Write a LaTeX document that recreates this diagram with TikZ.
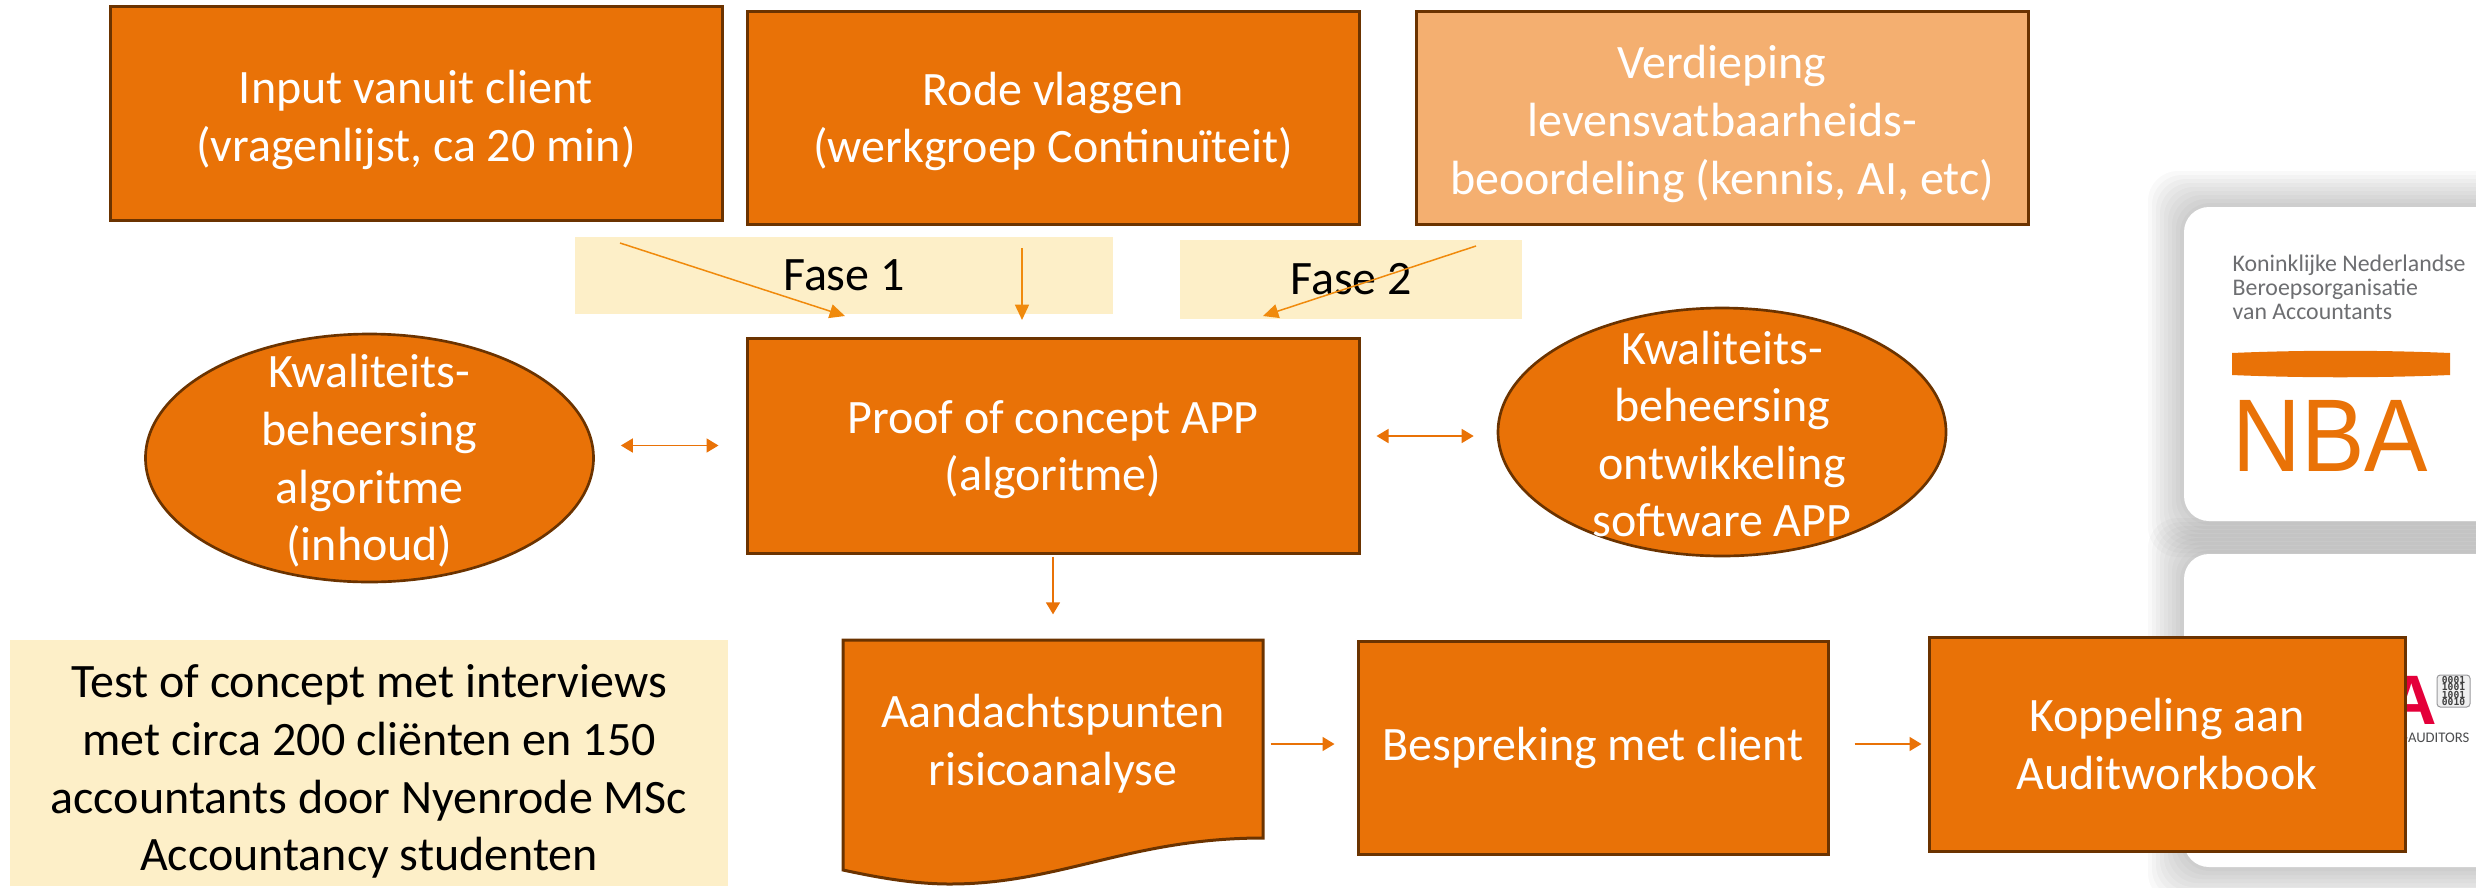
\documentclass[tikz,border=0pt]{standalone}
\usepackage{fontspec}
\setmainfont{Carlito}
\newfontfamily\logofont{Liberation Sans}
\newfontfamily\digitfont{DejaVu Sans Mono}
\usetikzlibrary{calc,arrows.meta,shapes.geometric}

\definecolor{boxfill}{HTML}{E97207}
\definecolor{boxline}{HTML}{6B3300}
\definecolor{boxpale}{HTML}{F4AF70}
\definecolor{notefill}{HTML}{FDEFC8}
\definecolor{flowline}{HTML}{F08A0C}
\definecolor{redlogo}{HTML}{E4003A}
\definecolor{greylogo}{HTML}{6D6E71}

\newcommand{\lowline}[1]{\rule{0pt}{#1}}

\tikzset{
  bodyfont/.style={font=\fontsize{14.4}{17.3}\selectfont,align=center},
  stepbox/.style={bodyfont,draw=boxline,line width=0.9pt,fill=boxfill,text=white,inner sep=0pt},
  ovalbox/.style={draw=boxline,line width=0.8pt,fill=boxfill,ellipse,inner sep=0pt,
    minimum width=134.4pt,minimum height=74.4pt},
  notebox/.style={bodyfont,fill=notefill,text=black,inner sep=0pt},
  flow/.style={-{Triangle[length=4.6pt,width=4.2pt]},draw=flowline,line width=0.45pt},
  linkarrow/.style={{Triangle[length=3.6pt,width=4.2pt]}-{Triangle[length=3.6pt,width=4.2pt]},
    draw=boxfill,line width=0.5pt},
  stepflow/.style={-{Triangle[length=3.6pt,width=4.2pt]},draw=boxfill,line width=0.5pt},
  logocard/.style={fill=white,rounded corners=7.5pt},
}

\begin{document}
\begin{tikzpicture}[x=0.3pt,y=-0.3pt]
  \useasboundingbox (0,0) rectangle (2476,887);

  % logo cards
  \foreach \grow in {36,32,...,4}{
    \fill[black,opacity=0.022,rounded corners=9pt] (2184-\grow,207-\grow) rectangle (2560,521+\grow);
    \fill[black,opacity=0.022,rounded corners=9pt] (2184-\grow,554-\grow) rectangle (2560,867+\grow);
  }
  \fill[logocard] (2184,207) rectangle (2560,521);
  \fill[logocard] (2184,554) rectangle (2560,867);

  \node[anchor=west,text=greylogo,inner sep=0pt,align=left,font=\fontsize{7.15}{7.2}\selectfont] (nbatext) at (2232,287)
    {Koninklijke Nederlandse\\Beroepsorganisatie\\van Accountants};
  \fill[boxfill] (2232,353) .. controls (2300,350) and (2380,350) .. (2450,353) -- (2450,375)
    .. controls (2380,378) and (2300,378) .. (2232,375) -- cycle;
  \node[anchor=west,text=boxfill,inner sep=0pt,xscale=0.92,font=\logofont\fontsize{31}{31}\selectfont] (nbalogo) at (2232,436) {NBA};
  \node[anchor=south,text=redlogo,inner sep=0pt,font=\logofont\bfseries\fontsize{21}{21}\selectfont] (redlogo) at (2412,725.5) {A};
  \node[anchor=east,text=greylogo!70!black,inner sep=0pt,font=\fontsize{4.4}{4.4}\selectfont] (auditlogo) at (2470,738) {-AUDITORS};
  \node[draw=greylogo!70,fill=black!6,rounded corners=1pt,line width=0.3pt,minimum width=9.9pt,minimum height=9.6pt,
    inner sep=0pt,align=center,text=black!75,font=\digitfont\bfseries\fontsize{2.9}{2.2}\selectfont] (binlogo) at (2453.5,691)
    {0001\\1001\\1001\\0010};

  % first row
  \node[stepbox,minimum width=183.6pt,minimum height=64.2pt] (client) at (416,113) {\lowline{14.3pt}Input vanuit client\\(vragenlijst, ca 20 min)};
  \node[stepbox,minimum width=183.6pt,minimum height=63.9pt] (vlaggen) at (1053,117.5) {\lowline{12.4pt}Rode vlaggen\\(werkgroep Continuïteit)};
  \node[stepbox,fill=boxpale,minimum width=183.6pt,minimum height=63.9pt] (verdieping) at (1722,117.5) {\lowline{13.8pt}Verdieping\\levensvatbaarheids-\\beoordeling (kennis, AI, etc)};

  % phases
  \node[notebox,minimum width=161.4pt,minimum height=23.1pt] (fase1) at (844,275.5) {Fase 1};
  \node[notebox,minimum width=102.6pt,minimum height=23.7pt] (fase2) at (1351,279.5) {Fase 2};

  % middle row
  \node[stepbox,minimum width=183.6pt,minimum height=64.5pt] (proof) at (1053,445.5) {\lowline{12.4pt}Proof of concept APP\\(algoritme)};
  \node[ovalbox] (inhoud) at (369.5,458) {};
  \node[bodyfont,text=white,inner sep=0pt] (inhoudtext) at (369.5,461) {Kwaliteits-\\beheersing\\algoritme\\(inhoud)};
  \node[ovalbox] (software) at (1722,432) {};
  \node[bodyfont,text=white,inner sep=0pt] (softwaretext) at (1722,434) {Kwaliteits-\\beheersing\\ontwikkeling\\software APP};

  % last row
  \node[notebox,minimum width=215.4pt,minimum height=73.8pt] (test) at (369,763) {\lowline{15.2pt}Test of concept met interviews\\met circa 200 cliënten en 150\\accountants door Nyenrode MSc\\Accountancy studenten};
  \fill[boxfill,draw=boxline,line width=0.9pt] (843,640) -- (1263,640) -- (1263,838)
    .. controls (1130,838) and (1060,884) .. (950,884) .. controls (915,884) and (880,878) .. (843,870) -- cycle;
  \node[bodyfont,text=white,inner sep=0pt,minimum width=126pt,minimum height=62.4pt] (aandacht) at (1053,744) {Aandachtspunten\\risicoanalyse};
  \node[stepbox,minimum width=141pt,minimum height=63.9pt] (bespreking) at (1593,747.5) {Bespreking met client};
  \node[stepbox,minimum width=142.8pt,minimum height=64.2pt] (koppeling) at (2167,744) {Koppeling aan\\Auditworkbook};

  % connectors
  \coordinate (inputstart) at (620,243);
  \coordinate (inputend) at (845,316);
  \coordinate (vlagstart) at (1022,248);
  \coordinate (vlagend) at (1022,320);
  \coordinate (diepstart) at (1476,246);
  \coordinate (diepend) at (1263,316);
  \draw[flow] (inputstart) -- (inputend);
  \draw[flow] (vlagstart) -- (vlagend);
  \draw[flow] (diepstart) -- (diepend);

  \draw[linkarrow,shorten <=7.8pt,shorten >=8.1pt] (inhoud.east |- proof.west) -- (proof.west);
  \draw[linkarrow,shorten <=4.8pt,shorten >=6.9pt] (proof.east |- 0,436) -- (software.west |- 0,436);
  \draw[stepflow,shorten <=0.6pt,shorten >=7.5pt] (proof.south) -- (aandacht.north);
  \draw[stepflow,shorten <=2.1pt,shorten >=6.6pt] (aandacht.east) -- (aandacht.east -| bespreking.west);
  \draw[stepflow,shorten <=7.5pt,shorten >=1.8pt] (bespreking.east |- koppeling.west) -- (koppeling.west);
\end{tikzpicture}
\end{document}
